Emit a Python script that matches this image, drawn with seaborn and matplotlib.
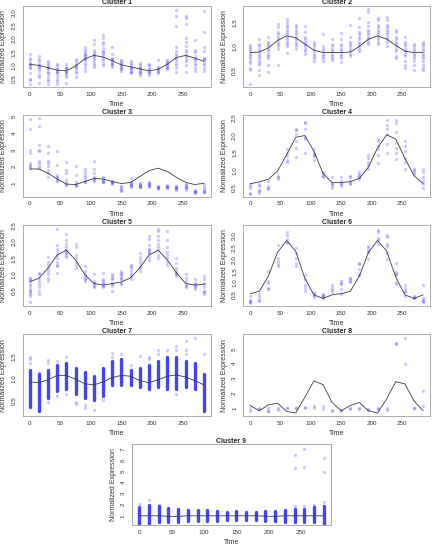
import matplotlib
matplotlib.use('Agg')
import pandas as pd
import matplotlib.pyplot as plt
import seaborn as sns

times = [0, 15, 30, 45, 60, 75, 90, 105, 120, 135, 150, 165, 180, 195, 210, 225, 240, 255, 270, 285]

# cluster means (line) and individual gene values (points)
c1_mean = [1.05, 1.0, 0.92, 0.82, 0.8, 0.98, 1.25, 1.38, 1.32, 1.18, 1.02, 0.95, 0.87, 0.8, 0.85, 1.05, 1.3, 1.38, 1.28, 1.15]
c1_pts = [
    [1.45, 1.3, 1.2, 1.1, 1.05, 1.0, 0.95, 0.9, 0.7, 0.5, 0.45, 0.3],
    [1.35, 1.25, 1.15, 1.05, 1.0, 0.95, 0.9, 0.8, 0.65, 0.55, 0.35],
    [1.15, 1.1, 1.0, 0.95, 0.9, 0.85, 0.75, 0.7, 0.6, 0.5, 0.4, 0.3],
    [1.05, 1.0, 0.9, 0.85, 0.8, 0.75, 0.7, 0.6, 0.5, 0.4, 0.3],
    [1.05, 0.95, 0.9, 0.85, 0.8, 0.75, 0.7, 0.65, 0.55, 0.35],
    [1.25, 1.15, 1.05, 1.0, 0.95, 0.9, 0.8, 0.7, 0.55],
    [1.7, 1.6, 1.5, 1.45, 1.4, 1.35, 1.3, 1.25, 1.2, 1.1, 1.0, 0.9, 0.8],
    [1.95, 1.8, 1.6, 1.5, 1.45, 1.4, 1.35, 1.3, 1.2, 1.1, 1.0, 0.95],
    [2.15, 2.05, 1.9, 1.8, 1.65, 1.55, 1.5, 1.45, 1.35, 1.3, 1.2, 1.1, 1.0],
    [1.7, 1.45, 1.3, 1.25, 1.2, 1.15, 1.1, 1.05, 1.0, 0.95],
    [1.2, 1.15, 1.1, 1.05, 1.0, 0.95, 0.9, 0.85, 0.8],
    [1.15, 1.1, 1.0, 0.95, 0.9, 0.85, 0.8, 0.75, 0.7],
    [1.1, 1.0, 0.95, 0.9, 0.85, 0.8, 0.75, 0.7, 0.65],
    [1.05, 1.0, 0.9, 0.85, 0.8, 0.75, 0.7, 0.65],
    [1.2, 0.95, 0.9, 0.85, 0.8, 0.75, 0.7],
    [1.2, 1.15, 1.1, 1.05, 1.0, 0.95, 0.9, 0.85],
    [3.1, 2.85, 2.5, 1.7, 1.55, 1.45, 1.35, 1.3, 1.2, 1.1, 1.0, 0.9, 0.75],
    [2.85, 2.8, 2.55, 2.05, 1.9, 1.75, 1.6, 1.5, 1.4, 1.35, 1.25, 1.15, 1.0, 0.75],
    [1.95, 1.6, 1.5, 1.35, 1.25, 1.2, 1.1, 1.0, 0.9, 0.8],
    [3.05, 2.25, 1.7, 1.55, 1.3, 1.25, 1.2, 1.1, 1.0, 0.9, 0.8],
]

c2_mean = [0.87, 0.88, 0.97, 1.12, 1.22, 1.18, 1.05, 0.92, 0.87, 0.87, 0.87, 0.88, 1.0, 1.15, 1.22, 1.15, 1.02, 0.9, 0.87, 0.87]
c2_pts = [
    [1.02, 0.98, 0.95, 0.9, 0.85, 0.8, 0.75, 0.7, 0.65, 0.55, 0.5, 0.22],
    [1.15, 1.05, 1.0, 0.95, 0.9, 0.85, 0.8, 0.75, 0.7, 0.65, 0.6, 0.5, 0.4],
    [1.2, 1.1, 1.05, 1.0, 0.95, 0.9, 0.85, 0.8, 0.75, 0.6, 0.47],
    [1.47, 1.4, 1.3, 1.25, 1.2, 1.15, 1.1, 1.05, 1.0, 0.95, 0.62],
    [1.57, 1.5, 1.45, 1.4, 1.35, 1.3, 1.25, 1.2, 1.15, 1.1, 1.05, 1.0, 0.87],
    [1.45, 1.4, 1.35, 1.3, 1.25, 1.2, 1.15, 1.1, 1.05, 1.0, 0.95],
    [1.42, 1.3, 1.2, 1.15, 1.1, 1.05, 1.0, 0.95, 0.9, 0.85],
    [1.1, 1.05, 1.0, 0.95, 0.9, 0.85, 0.8, 0.75, 0.7],
    [1.25, 1.0, 0.95, 0.9, 0.85, 0.8, 0.75, 0.7],
    [1.15, 1.05, 1.0, 0.95, 0.9, 0.85, 0.8, 0.75, 0.72],
    [1.28, 1.15, 1.05, 1.0, 0.95, 0.9, 0.85, 0.8, 0.75, 0.68],
    [1.45, 1.2, 1.1, 1.05, 1.0, 0.95, 0.9, 0.85, 0.8],
    [1.6, 1.4, 1.3, 1.25, 1.2, 1.15, 1.1, 1.05, 1.0, 0.95, 0.9],
    [1.78, 1.72, 1.5, 1.42, 1.35, 1.3, 1.25, 1.2, 1.15, 1.1, 1.05],
    [1.6, 1.55, 1.45, 1.4, 1.35, 1.3, 1.25, 1.2, 1.15, 1.1, 1.05],
    [1.62, 1.55, 1.45, 1.4, 1.35, 1.3, 1.25, 1.2, 1.15, 1.1, 1.0],
    [1.35, 1.3, 1.2, 1.15, 1.1, 1.05, 1.0, 0.95, 0.9, 0.8, 0.75],
    [1.2, 1.1, 1.05, 1.0, 0.95, 0.9, 0.85, 0.8, 0.7, 0.6, 0.55],
    [1.05, 1.0, 0.95, 0.9, 0.85, 0.8, 0.75, 0.7, 0.6, 0.5],
    [1.1, 1.05, 1.0, 0.95, 0.9, 0.85, 0.8, 0.75, 0.7, 0.6, 0.55, 0.5],
]

c3_mean = [1.85, 1.85, 1.6, 1.25, 0.95, 0.92, 1.1, 1.28, 1.25, 1.1, 0.98, 1.05, 1.4, 1.75, 1.9, 1.7, 1.35, 1.05, 0.92, 1.0]
c3_pts = [
    [4.85, 4.25, 3.0, 2.8, 2.2, 2.1, 2.0, 1.9],
    [4.9, 4.4, 3.3, 3.0, 2.9, 2.35, 2.2, 2.0, 1.9],
    [3.25, 2.8, 2.35, 2.2, 2.0, 1.8, 1.6, 1.35],
    [2.95, 2.1, 1.5, 1.4, 1.3, 1.2, 1.15],
    [2.25, 1.8, 1.6, 1.2, 1.0, 0.95, 0.9],
    [2.05, 1.5, 1.05, 0.95, 0.9, 0.85],
    [1.85, 1.7, 1.5, 1.4, 1.2, 1.1, 1.05],
    [2.3, 1.85, 1.6, 1.4, 1.3, 1.2, 1.15],
    [1.4, 1.3, 1.2, 1.15, 1.1, 1.05],
    [1.15, 1.1, 1.05, 1.0, 0.95],
    [0.85, 0.75, 0.65, 0.6, 0.55],
    [1.3, 1.1, 1.0, 0.95, 0.9, 0.85, 0.8],
    [1.0, 0.95, 0.9, 0.85, 0.8, 0.75],
    [1.05, 1.0, 0.95, 0.9, 0.85, 0.8],
    [0.85, 0.8, 0.75, 0.7, 0.65],
    [0.9, 0.85, 0.8, 0.75, 0.7],
    [0.85, 0.8, 0.75, 0.7, 0.65, 0.6],
    [0.95, 0.9, 0.8, 0.75, 0.7, 0.6],
    [0.6, 0.55, 0.5, 0.45, 0.4],
    [0.95, 0.75, 0.65, 0.55, 0.5, 0.45],
]

c4_mean = [0.62, 0.67, 0.75, 0.98, 1.45, 1.95, 2.0, 1.55, 0.92, 0.65, 0.65, 0.68, 0.77, 1.1, 1.65, 2.02, 1.9, 1.35, 0.85, 0.62]
c4_pts = [
    [0.6, 0.55, 0.5, 0.35, 0.33],
    [0.6, 0.55, 0.45, 0.4, 0.35],
    [0.7, 0.55, 0.5, 0.48],
    [0.85, 0.8, 0.75],
    [1.6, 1.5, 1.4, 1.3, 1.25],
    [2.2, 2.15, 2.05, 1.85, 1.65, 1.38],
    [2.4, 2.35, 2.2, 1.95, 1.9, 1.5],
    [1.6, 1.5, 1.45, 1.4, 1.3],
    [0.95, 0.9, 0.85, 0.8],
    [0.8, 0.65, 0.6, 0.55, 0.5],
    [0.8, 0.7, 0.65, 0.6, 0.55],
    [0.85, 0.8, 0.7, 0.65, 0.6],
    [0.95, 0.9, 0.85, 0.8, 0.75],
    [1.45, 1.35, 1.25, 1.15, 1.05],
    [1.9, 1.85, 1.7, 1.6, 1.45, 1.2],
    [2.45, 2.3, 2.2, 2.05, 1.75, 1.5],
    [2.45, 2.35, 2.1, 1.8, 1.65, 1.5, 1.32],
    [1.85, 1.7, 1.55, 1.35, 1.25, 1.05],
    [1.05, 1.0, 0.95, 0.9],
    [1.05, 0.95, 0.8, 0.7, 0.6, 0.5],
]

c5_mean = [0.78, 0.88, 1.2, 1.6, 1.75, 1.45, 1.0, 0.72, 0.67, 0.72, 0.77, 0.9, 1.2, 1.6, 1.75, 1.45, 1.05, 0.72, 0.67, 0.7]
c5_pts = [
    [0.9, 0.85, 0.8, 0.7, 0.65, 0.55, 0.5, 0.45, 0.4, 0.35, 0.15],
    [1.05, 1.0, 0.9, 0.8, 0.7, 0.6, 0.5, 0.4],
    [1.55, 1.4, 1.3, 1.2, 1.1, 1.0, 0.9, 0.8],
    [2.4, 1.9, 1.8, 1.7, 1.6, 1.5, 1.4, 1.3, 1.25, 1.05],
    [2.25, 2.05, 1.95, 1.85, 1.75, 1.7, 1.65, 1.6, 1.55],
    [1.95, 1.85, 1.6, 1.5, 1.4, 1.3, 1.2],
    [1.25, 1.1, 1.0, 0.95, 0.9, 0.85, 0.8],
    [1.0, 0.8, 0.75, 0.7, 0.65, 0.6],
    [1.05, 0.85, 0.8, 0.75, 0.7, 0.65, 0.6],
    [1.0, 0.95, 0.9, 0.85, 0.75, 0.7, 0.65, 0.5],
    [1.1, 1.05, 1.0, 0.95, 0.9, 0.85, 0.75, 0.7],
    [1.3, 1.25, 1.2, 1.1, 1.0, 0.95, 0.85],
    [1.65, 1.55, 1.45, 1.35, 1.25, 1.2, 1.1],
    [2.2, 2.1, 1.9, 1.8, 1.75, 1.7, 1.65, 1.55, 1.45],
    [2.4, 2.35, 2.2, 2.05, 1.95, 1.85, 1.75, 1.6, 1.5],
    [2.35, 2.05, 1.85, 1.7, 1.6, 1.5, 1.4, 1.3],
    [1.5, 1.35, 1.2, 1.1, 1.05, 1.0, 0.95],
    [1.0, 0.9, 0.8, 0.7, 0.65, 0.6],
    [0.85, 0.75, 0.7, 0.65, 0.6, 0.55],
    [0.95, 0.85, 0.75, 0.7, 0.6, 0.5, 0.45, 0.4],
]

c6_mean = [0.55, 0.65, 1.3, 2.3, 2.8, 2.35, 1.2, 0.5, 0.35, 0.5, 0.55, 0.65, 1.3, 2.3, 2.8, 2.35, 1.25, 0.5, 0.35, 0.5]
c6_pts = [
    [0.45, 0.3, 0.25, 0.2, 0.15],
    [0.55, 0.4, 0.3, 0.25],
    [1.5, 1.1, 1.0, 0.8, 0.75],
    [2.6, 2.05, 1.95, 1.8, 1.7],
    [3.15, 3.05, 2.85, 2.75, 2.7],
    [2.5, 2.25, 2.05, 1.85, 1.7],
    [1.35, 1.15, 0.9, 0.8, 0.65],
    [0.6, 0.55, 0.5, 0.4],
    [0.55, 0.5, 0.45, 0.4, 0.35],
    [0.9, 0.8, 0.7, 0.6],
    [1.1, 1.0, 0.95, 0.75, 0.55],
    [1.2, 1.15, 1.1, 1.05],
    [1.85, 1.8, 1.6, 1.4, 1.35],
    [2.55, 2.5, 2.35, 2.3, 2.0],
    [3.25, 3.15, 2.9, 2.8, 2.65],
    [3.05, 2.95, 2.65, 2.55, 2.25, 2.0],
    [1.85, 1.45, 1.4, 1.35, 1.05, 0.95],
    [0.9, 0.8, 0.65, 0.6, 0.45],
    [0.45, 0.4, 0.38, 0.35],
    [0.9, 0.35, 0.3, 0.25, 0.2],
]

# cluster 7: many genes -> dense range per time point plus sparse outliers
c7_mean = [0.92, 0.9, 0.97, 1.07, 1.07, 0.98, 0.88, 0.85, 0.92, 1.02, 1.07, 1.05, 0.95, 0.9, 0.97, 1.05, 1.08, 1.03, 0.95, 0.85]
c7_lo = [0.35, 0.25, 0.55, 0.7, 0.75, 0.65, 0.55, 0.5, 0.6, 0.85, 0.85, 0.85, 0.8, 0.75, 0.8, 0.75, 0.75, 0.8, 0.75, 0.25]
c7_hi = [1.2, 1.1, 1.2, 1.3, 1.35, 1.25, 1.15, 1.05, 1.25, 1.4, 1.45, 1.2, 1.25, 1.3, 1.4, 1.5, 1.5, 1.4, 1.35, 1.1]
c7_out = [
    [1.5, 1.45, 1.35], [1.15], [1.42, 1.35, 0.45], [1.4, 0.6], [1.5, 0.65],
    [0.45, 0.4], [0.38, 0.33], [0.28], [0.5], [1.58, 1.5],
    [1.55], [1.3], [1.52], [1.5, 1.45], [1.65, 1.55],
    [1.65], [1.75, 1.65, 0.65], [1.85, 1.65, 1.55], [1.92], [1.55],
]

c8_mean = [1.2, 0.85, 1.25, 1.35, 0.8, 0.7, 1.75, 2.85, 2.6, 1.4, 0.85, 1.2, 1.4, 0.85, 0.7, 1.65, 2.8, 2.65, 1.5, 0.85]
c8_pts = [
    [1.05, 0.85], [1.0, 0.95], [1.0, 0.85, 0.8], [1.05, 0.9], [1.05, 1.0],
    [1.05, 1.0], [1.1, 1.05], [1.15, 1.05], [1.2, 0.95], [0.9, 0.85],
    [0.9, 0.85], [1.05, 0.95], [1.0, 0.95], [0.95, 0.9], [1.0, 0.95],
    [1.0, 0.9], [5.4, 5.3], [5.75, 4.0], [1.05, 1.0], [2.2, 1.2],
]

c9_mean = [1.0, 1.0, 1.0, 0.95, 0.95, 1.0, 1.0, 1.0, 1.0, 1.0, 1.0, 1.0, 1.0, 0.97, 0.95, 1.0, 1.0, 1.0, 1.0, 1.0]
c9_lo = [0.3, 0.3, 0.4, 0.45, 0.45, 0.5, 0.5, 0.5, 0.55, 0.6, 0.6, 0.6, 0.6, 0.5, 0.5, 0.45, 0.4, 0.4, 0.4, 0.3]
c9_hi = [1.75, 2.0, 1.9, 1.7, 1.6, 1.5, 1.5, 1.55, 1.4, 1.35, 1.4, 1.35, 1.35, 1.45, 1.45, 1.5, 1.6, 1.6, 1.8, 1.9]
c9_out = [
    [2.1], [2.45], [2.0], [], [], [], [], [], [], [],
    [], [], [], [], [], [], [1.9, 5.25, 6.4], [1.9, 5.35, 7.0], [2.0], [2.25, 4.9, 6.2],
]

sns.set_style('white')
plt.rcParams['font.family'] = ['Liberation Sans', 'DejaVu Sans']

W, H = 433, 548
fig = plt.figure(figsize=(W / 100, H / 100), dpi=100)

PT_COLOR = '#0000ff'
LINE_COLOR = '#3a3a3a'


def to_frame(pts):
    rows = []
    for t, vals in zip(times, pts):
        for v in vals:
            rows.append((t, v))
    return pd.DataFrame(rows, columns=['time', 'value'])


def panel(box, title, mean, pts, ylim, yticks, ylabels, lo=None, hi=None):
    x0, y0, x1, y1 = box
    ax = fig.add_axes([x0 / W, 1 - y1 / H, (x1 - x0) / W, (y1 - y0) / H])
    if lo is not None:
        lc = ax.vlines(times, lo, hi, color='#1414f5', lw=2.4, alpha=0.8)
        lc.set_capstyle('round')
    df = to_frame(pts)
    sns.scatterplot(data=df, x='time', y='value', ax=ax, color=PT_COLOR,
                    alpha=0.2, s=6, linewidth=0, legend=False)
    sns.lineplot(x=times, y=mean, ax=ax, color=LINE_COLOR, lw=0.6, estimator=None)
    ax.set_xlim(-11.4, 296.4)
    ax.set_ylim(*ylim)
    ax.set_xticks([0, 50, 100, 150, 200, 250])
    ax.set_xticklabels(['0', '50', '100', '150', '200', '250'])
    ax.set_yticks(yticks)
    ax.set_yticklabels(ylabels, rotation=90, va='center')
    ax.tick_params(axis='both', which='major', length=2, width=0.5, pad=1.5,
                   labelsize=4.5, colors='#333333', direction='out')
    ax.tick_params(axis='y', pad=2.5)
    for sp in ax.spines.values():
        sp.set_color('#a0a0a0')
        sp.set_linewidth(0.6)
    ax.set_xlabel('Time', fontsize=5, color='#333333', labelpad=3)
    ax.set_ylabel('Normalized Expression', fontsize=5, color='#333333', labelpad=3)
    ax.set_title(title, fontsize=5, fontweight='bold', pad=1)
    return ax


r = 109.6
L = (22.7, 211.0)
R = (243.3, 430.0)


def box(col, row):
    return (col[0], 5.7 + r * row, col[1], 87.0 + r * row)


panel(box(L, 0), 'Cluster 1', c1_mean, c1_pts, (0.19, 3.25),
      [0.5, 1.0, 1.5, 2.0, 2.5, 3.0], ['0.5', '1.0', '1.5', '2.0', '2.5', '3.0'])
panel(box(R, 0), 'Cluster 2', c2_mean, c2_pts, (0.15, 1.85),
      [0.5, 1.0, 1.5], ['0.5', '1.0', '1.5'])
panel(box(L, 1), 'Cluster 3', c3_mean, c3_pts, (0.2, 5.06),
      [1, 2, 3, 4, 5], ['1', '2', '3', '4', '5'])
panel(box(R, 1), 'Cluster 4', c4_mean, c4_pts, (0.25, 2.58),
      [0.5, 1.0, 1.5, 2.0, 2.5], ['0.5', '1.0', '1.5', '2.0', '2.5'])
panel(box(L, 2), 'Cluster 5', c5_mean, c5_pts, (0.02, 2.53),
      [0.5, 1.0, 1.5, 2.0, 2.5], ['0.5', '1.0', '1.5', '2.0', '2.5'])
panel(box(R, 2), 'Cluster 6', c6_mean, c6_pts, (0.02, 3.46),
      [0.5, 1.0, 1.5, 2.0, 2.5, 3.0], ['0.5', '1.0', '1.5', '2.0', '2.5', '3.0'])
panel(box(L, 3), 'Cluster 7', c7_mean, c7_out, (0.14, 2.01),
      [0.5, 1.0, 1.5], ['0.5', '1.0', '1.5'], lo=c7_lo, hi=c7_hi)
panel(box(R, 3), 'Cluster 8', c8_mean, c8_pts, (0.51, 5.96),
      [1, 2, 3, 4, 5], ['1', '2', '3', '4', '5'])
panel(box((132.0, 331.0), 4), 'Cluster 9', c9_mean, c9_out, (0.14, 7.42),
      [1, 2, 3, 4, 5, 6, 7], ['1', '2', '3', '4', '5', '6', '7'], lo=c9_lo, hi=c9_hi)

fig.savefig('out.png', dpi=100)
